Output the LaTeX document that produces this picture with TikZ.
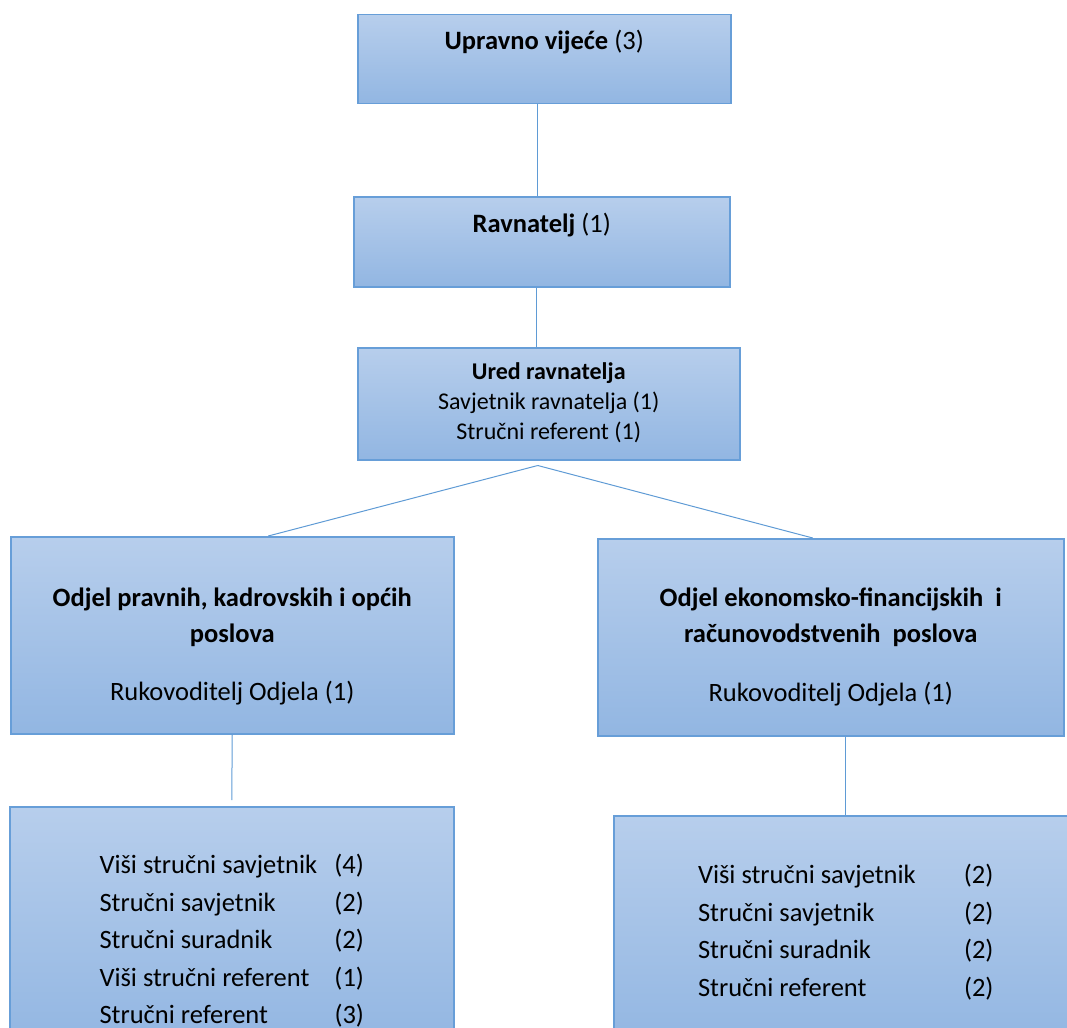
\documentclass[tikz,border=0pt]{standalone}
\usepackage{fontspec}
\setmainfont{Carlito}
\usepackage{tikz}
\usetikzlibrary{positioning}
\definecolor{boxtop}{RGB}{183,206,236}
\definecolor{boxbottom}{RGB}{146,182,226}
\definecolor{boxline}{RGB}{103,158,216}
\definecolor{linkblue}{RGB}{95,155,213}
\newcommand{\bigtext}{\fontsize{26.5}{36}\selectfont}
\newcommand{\smalltext}{\fontsize{24}{30}\selectfont}
\newcommand{\listtext}{\fontsize{26.5}{37.5}\selectfont}
\tikzset{
    orgbox/.style={
        rectangle,
        draw=boxline,
        line width=1.5pt,
        top color=boxtop,
        bottom color=boxbottom,
        inner sep=0pt,
        align=flush center,
        anchor=north west,
        font=\bigtext
    },
    link/.style={draw=linkblue, line width=1pt},
}
\begin{document}
\begin{tikzpicture}[x=1pt, y=-1pt]
    \clip (0,0) rectangle (1067,1027);

    % Management
    \node[orgbox, text width=373pt, text height=35pt, text depth=54pt] (board) at (357,14) {\textbf{Upravno vijeće} (3)};
    \node[orgbox, text width=376pt, text height=36pt, text depth=54pt] (director) at (353,196) {\textbf{Ravnatelj} (1)};
    \node[orgbox, text width=382pt, text height=32pt, text depth=80pt, font=\smalltext] (office) at (357,347) {\textbf{Ured ravnatelja}\\Savjetnik ravnatelja (1)\\Stručni referent (1)};

    % Departments
    \node[orgbox, text width=443pt, text height=70pt, text depth=127pt] (legaldept) at (10,536) {\textbf{Odjel pravnih, kadrovskih i općih}\\\textbf{poslova}\\[22pt]Rukovoditelj Odjela (1)};
    \node[orgbox, text width=466pt, text height=68pt, text depth=129pt] (financedept) at (597,538) {\textbf{Odjel ekonomsko-financijskih\ \ i}\\\textbf{računovodstvenih\ \ poslova}\\[23pt]Rukovoditelj Odjela (1)};

    % Staff
    \node[orgbox, text width=444pt, text height=67pt, text depth=173pt, font=\listtext] (legalstaff) at (9,806) {\begin{tabular}[t]{@{}p{235pt}@{}l@{}}
        Viši stručni savjetnik & (4)\\
        Stručni savjetnik & (2)\\
        Stručni suradnik & (2)\\
        Viši stručni referent & (1)\\
        Stručni referent & (3)
    \end{tabular}};
    \node[orgbox, text width=464pt, text height=68pt, text depth=162pt, font=\listtext] (financestaff) at (613,815) {\begin{tabular}[t]{@{}p{266pt}@{}l@{}}
        Viši stručni savjetnik & (2)\\
        Stručni savjetnik & (2)\\
        Stručni suradnik & (2)\\
        Stručni referent & (2)
    \end{tabular}};

    % Connectors
    \coordinate (fork) at ([xshift=-11pt,yshift=-5pt]office.south);
    \draw[link] ([xshift=-7pt]board.south) -- ([xshift=-7pt]board.south |- director.north);
    \draw[link] ([xshift=-5pt]director.south) -- ([xshift=-5pt]director.south |- office.north);
    \draw[link] (fork) -- ([xshift=36pt]legaldept.north);
    \draw[link] (fork) -- ([xshift=-18pt]financedept.north);
    \draw[link] (legaldept.south) -- ([yshift=6pt]legalstaff.north);
    \draw[link] (financedept.south -| financestaff.north) -- (financestaff.north);
\end{tikzpicture}
\end{document}
